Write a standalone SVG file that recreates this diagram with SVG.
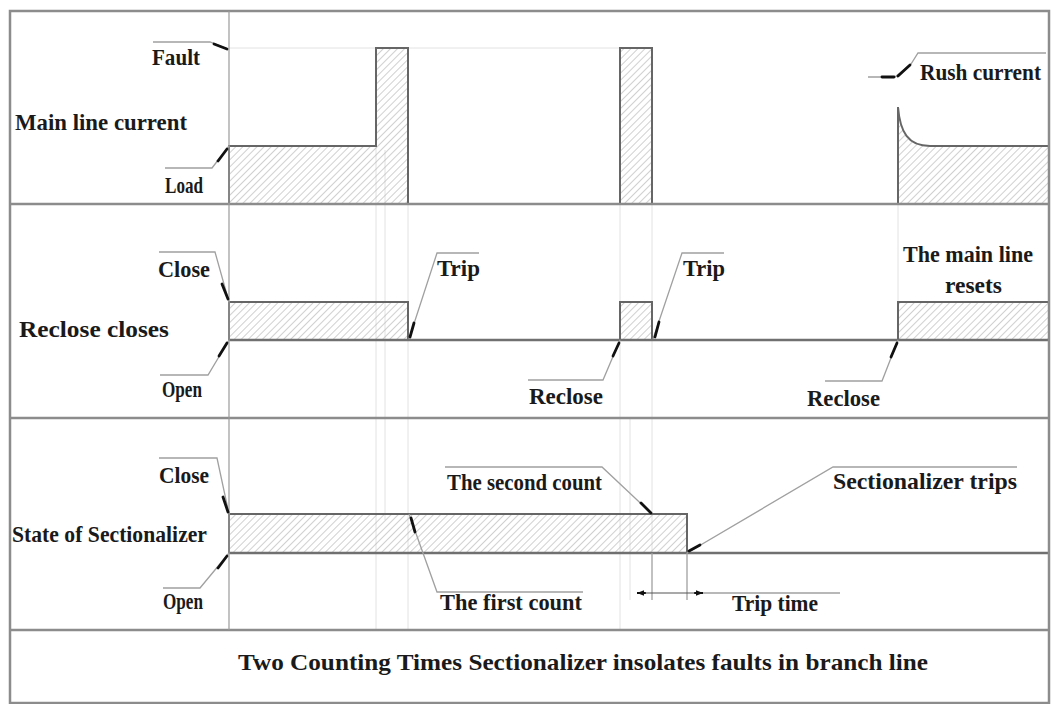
<svg xmlns="http://www.w3.org/2000/svg" width="1053" height="704" viewBox="0 0 1053 704">
<defs>
<pattern id="hatch" width="5" height="5" patternUnits="userSpaceOnUse" patternTransform="rotate(45)">
<line x1="0" y1="0" x2="0" y2="5" stroke="#b0b0b0" stroke-width="1.2"/>
</pattern>
<marker id="arr" viewBox="0 0 10 10" refX="10" refY="5" markerWidth="10" markerHeight="7" orient="auto" markerUnits="userSpaceOnUse">
<path d="M0,1 L10,5 L0,9 Z" fill="#111"/>
</marker>
</defs>
<style>
.frame{fill:none;stroke:#8c8c8c;stroke-width:2.5}
.sep{stroke:#8c8c8c;stroke-width:2.5}
.div{stroke:#9a9a9a;stroke-width:1.2}
.guide{stroke:#e2e2e2;stroke-width:1}
.wave{fill:url(#hatch);stroke:#666;stroke-width:2}
.base{stroke:#707070;stroke-width:2.5}
.lead{fill:none;stroke:#a0a0a0;stroke-width:1.3}
.tick{stroke:#111;stroke-width:2.8;stroke-linecap:round}
text{font-family:"Liberation Serif","DejaVu Serif",serif;font-size:23.5px;font-weight:bold;fill:#1a1a1a}
</style>
<rect width="1053" height="704" fill="#fff"/>
<g id="guides">
<line class="guide" x1="229" y1="48" x2="620" y2="48"/>
<line class="guide" x1="376" y1="146" x2="376" y2="630"/>
<line class="guide" x1="385" y1="150" x2="385" y2="520"/>
<line class="guide" x1="408" y1="204" x2="408" y2="630"/>
<line class="guide" x1="620" y1="204" x2="620" y2="630"/>
<line class="guide" x1="630" y1="418" x2="630" y2="600"/>
<line class="guide" x1="652" y1="204" x2="652" y2="553"/>
<line class="guide" x1="898" y1="204" x2="898" y2="340"/>
</g>
<g id="row1-main-line-current">
<path class="wave" d="M229,204 V146 H376 V48 H408 V204 Z"/>
<path class="wave" d="M620,204 V48 H652 V204 Z"/>
<path class="wave" d="M898,204 V107 C900,132 908,146 930,146 H1049 V204 Z"/>
</g>
<g id="row2-reclose">
<rect class="wave" x="229" y="302" width="179" height="38"/>
<rect class="wave" x="620" y="302" width="32" height="38"/>
<rect class="wave" x="898" y="302" width="151" height="38"/>
<line class="base" x1="229" y1="340" x2="1049" y2="340"/>
</g>
<g id="row3-sectionalizer">
<rect class="wave" x="229" y="514" width="458" height="39"/>
<line class="base" x1="229" y1="553" x2="1049" y2="553"/>
</g>
<g id="frame">
<rect class="frame" x="10" y="11" width="1039" height="692"/>
<line class="sep" x1="10" y1="204" x2="1049" y2="204"/>
<line class="sep" x1="10" y1="418" x2="1049" y2="418"/>
<line class="sep" x1="10" y1="630" x2="1049" y2="630"/>
<line class="div" x1="229" y1="11" x2="229" y2="630"/>
</g>
<g id="connectors">
<polyline class="lead" points="153,42 210,42 228,49"/><line class="tick" x1="214" y1="44" x2="227" y2="49"/>
<polyline class="lead" points="165,168 212,168 229,146"/><line class="tick" x1="218" y1="161" x2="227" y2="149"/>
<polyline class="lead" points="868,77 895,77 911,64 918,53 1046,53"/><line class="tick" x1="882" y1="77" x2="894" y2="77"/><line class="tick" x1="898" y1="76" x2="910" y2="65"/>
<polyline class="lead" points="159,252 215,252 229,302"/><line class="tick" x1="222" y1="284" x2="228" y2="299"/>
<polyline class="lead" points="160,375 208,375 229,340"/><line class="tick" x1="219" y1="356" x2="227" y2="343"/>
<polyline class="lead" points="479,253 437,253 409,339"/><line class="tick" x1="414" y1="323" x2="410" y2="337"/>
<polyline class="lead" points="724,253 682,253 653,339"/><line class="tick" x1="659" y1="322" x2="655" y2="337"/>
<polyline class="lead" points="528,380 603,380 620,340"/><line class="tick" x1="613" y1="356" x2="619" y2="343"/>
<polyline class="lead" points="825,381 882,381 898,340"/><line class="tick" x1="891" y1="357" x2="897" y2="343"/>
<polyline class="lead" points="159,458 217,458 229,514"/><line class="tick" x1="223" y1="497" x2="228" y2="512"/>
<polyline class="lead" points="163,588 200,588 229,553"/><line class="tick" x1="218" y1="568" x2="227" y2="556"/>
<polyline class="lead" points="445,467 602,467 652,514"/><line class="tick" x1="641" y1="503" x2="651" y2="513"/>
<polyline class="lead" points="583,592 437,592 409,514"/><line class="tick" x1="411" y1="518" x2="415" y2="532"/>
<polyline class="lead" points="1017,467 833,467 687,553"/><line class="tick" x1="700" y1="545" x2="689" y2="551"/>
<line class="lead" x1="652" y1="553" x2="652" y2="600"/>
<line class="lead" x1="687" y1="553" x2="687" y2="600"/>
<line class="lead" x1="703" y1="593" x2="840" y2="593"/>
<line stroke="#111" stroke-width="2" x1="646" y1="593" x2="637" y2="593" marker-end="url(#arr)"/>
<line stroke="#111" stroke-width="2" x1="694" y1="593" x2="703" y2="593" marker-end="url(#arr)"/>
<line stroke="#555" stroke-width="1.2" x1="645" y1="593" x2="695" y2="593"/>
</g>
<g id="labels">
<text x="152" y="65" textLength="48" lengthAdjust="spacingAndGlyphs">Fault</text>
<text x="15" y="130" textLength="172" lengthAdjust="spacingAndGlyphs">Main line current</text>
<text x="165" y="193" textLength="38" lengthAdjust="spacingAndGlyphs">Load</text>
<text x="920" y="80" textLength="121" lengthAdjust="spacingAndGlyphs">Rush current</text>
<text x="158" y="277" textLength="52" lengthAdjust="spacingAndGlyphs">Close</text>
<text x="19" y="337" textLength="150" lengthAdjust="spacingAndGlyphs">Reclose closes</text>
<text x="162" y="397" textLength="40" lengthAdjust="spacingAndGlyphs">Open</text>
<text x="437" y="276" textLength="43" lengthAdjust="spacingAndGlyphs">Trip</text>
<text x="683" y="276" textLength="42" lengthAdjust="spacingAndGlyphs">Trip</text>
<text x="529" y="404" textLength="74" lengthAdjust="spacingAndGlyphs">Reclose</text>
<text x="903" y="262" textLength="130" lengthAdjust="spacingAndGlyphs">The main line</text>
<text x="945" y="293" textLength="57" lengthAdjust="spacingAndGlyphs">resets</text>
<text x="807" y="406" textLength="73" lengthAdjust="spacingAndGlyphs">Reclose</text>
<text x="159" y="483" textLength="50" lengthAdjust="spacingAndGlyphs">Close</text>
<text x="12" y="542" textLength="195" lengthAdjust="spacingAndGlyphs">State of Sectionalizer</text>
<text x="163" y="609" textLength="40" lengthAdjust="spacingAndGlyphs">Open</text>
<text x="447" y="490" textLength="155" lengthAdjust="spacingAndGlyphs">The second count</text>
<text x="833" y="489" textLength="184" lengthAdjust="spacingAndGlyphs">Sectionalizer trips</text>
<text x="440" y="610" textLength="142" lengthAdjust="spacingAndGlyphs">The first count</text>
<text x="732" y="611" textLength="86" lengthAdjust="spacingAndGlyphs">Trip time</text>
<text x="238" y="670" textLength="690" lengthAdjust="spacingAndGlyphs">Two Counting Times Sectionalizer insolates faults in branch line</text>
</g>
</svg>
